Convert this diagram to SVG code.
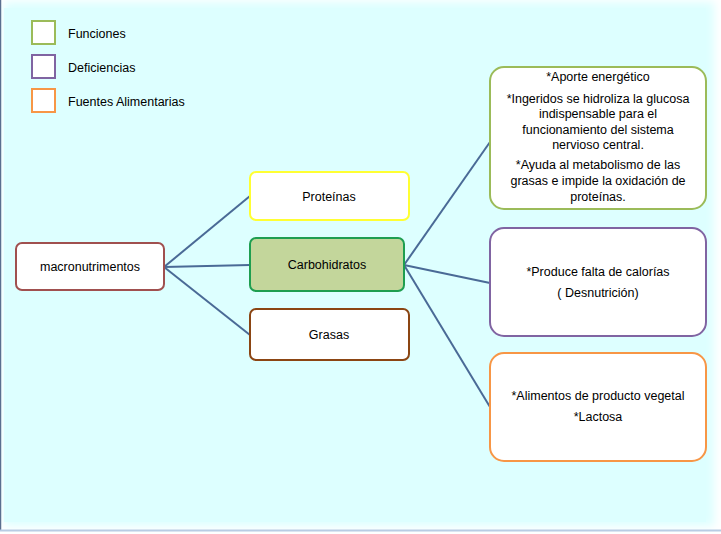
<svg xmlns="http://www.w3.org/2000/svg" width="721" height="534" viewBox="0 0 721 534">
<defs>
<filter id="soft" x="-5%" y="-5%" width="110%" height="110%"><feGaussianBlur stdDeviation="4"/></filter>
</defs>
<style>
text{font-family:"Liberation Sans",Arial,sans-serif;font-size:12.5px;fill:#000}
.c{text-anchor:middle}
.n{fill:#fff;stroke-width:2}
.conn line{stroke:#4A6A96;stroke-width:2;fill:none}
</style>
<rect x="0" y="0" width="721" height="534" fill="#fff"/>
<rect x="4" y="2" width="710" height="524" fill="#DDFFFF" filter="url(#soft)"/>
<rect x="4" y="8" width="702" height="514" fill="#DDFFFF"/>
<line x1="0.5" y1="0" x2="0.5" y2="530" stroke="#5A6F8F" stroke-width="1.5"/>
<line x1="0" y1="530.5" x2="721" y2="530.5" stroke="#B8CCE4" stroke-width="2"/>

<g id="legend">
<rect x="32" y="21" width="23" height="23" fill="#fff" stroke="#9BBB59" stroke-width="2"/>
<text x="68" y="38">Funciones</text>
<rect x="32" y="55" width="23" height="23" fill="#fff" stroke="#8064A2" stroke-width="2"/>
<text x="68" y="72">Deficiencias</text>
<rect x="32" y="89" width="23" height="23" fill="#fff" stroke="#F79646" stroke-width="2"/>
<text x="68" y="106">Fuentes Alimentarias</text>
</g>

<g class="conn" id="connectors">
<line x1="164" y1="267" x2="250" y2="196"/>
<line x1="164" y1="267" x2="250" y2="265"/>
<line x1="164" y1="267" x2="250" y2="335"/>
<line x1="404" y1="265" x2="490" y2="142"/>
<line x1="404" y1="265" x2="490" y2="283"/>
<line x1="404" y1="265" x2="490" y2="407"/>
</g>

<g id="macronutrimentos">
<rect class="n" x="16" y="243" width="148" height="47" rx="6" stroke="#A0504F"/>
<text class="c" x="90" y="271">macronutrimentos</text>
</g>
<g id="proteinas">
<rect class="n" x="250" y="172" width="159" height="48" rx="6" stroke="#FFFF33"/>
<text class="c" x="329" y="201">Proteínas</text>
</g>
<g id="carbohidratos">
<rect x="250" y="238" width="154" height="53" rx="6" fill="#C3D69B" stroke="#1E9E50" stroke-width="2"/>
<text class="c" x="327" y="269">Carbohidratos</text>
</g>
<g id="grasas">
<rect class="n" x="250" y="309" width="159" height="51" rx="6" stroke="#8B4513"/>
<text class="c" x="329" y="339">Grasas</text>
</g>

<g id="funciones">
<rect class="n" x="490" y="67" width="216" height="142" rx="14" stroke="#9BBB59"/>
<text class="c" x="598" y="81">*Aporte energético</text>
<text class="c" x="598" y="103">*Ingeridos se hidroliza la glucosa</text>
<text class="c" x="598" y="118">indispensable para el</text>
<text class="c" x="598" y="134">funcionamiento del sistema</text>
<text class="c" x="598" y="149">nervioso central.</text>
<text class="c" x="598" y="169">*Ayuda al metabolismo de las</text>
<text class="c" x="598" y="185">grasas e impide la oxidación de</text>
<text class="c" x="598" y="201">proteínas.</text>
</g>
<g id="deficiencias">
<rect class="n" x="490" y="228" width="216" height="108" rx="14" stroke="#8064A2"/>
<text class="c" x="598" y="276">*Produce falta de calorías</text>
<text class="c" x="598" y="297">( Desnutrición)</text>
</g>
<g id="fuentes">
<rect class="n" x="490" y="353" width="216" height="108" rx="14" stroke="#F79646"/>
<text class="c" x="598" y="400">*Alimentos de producto vegetal</text>
<text class="c" x="598" y="421">*Lactosa</text>
</g>
</svg>
